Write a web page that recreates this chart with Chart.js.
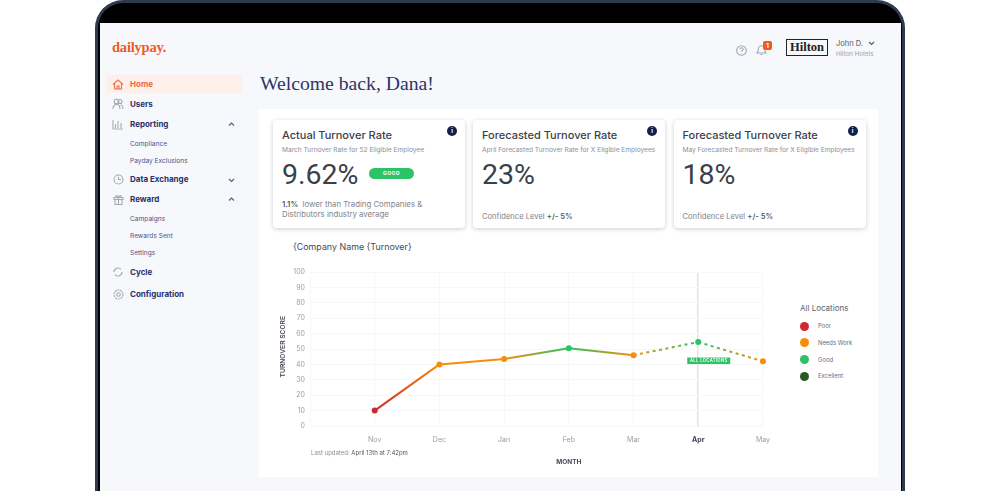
<!DOCTYPE html>
<html>
<head>
<meta charset="utf-8">
<title>DailyPay dashboard</title>
<script src="https://cdn.jsdelivr.net/npm/chart.js@4"></script>
<style>
    html, body { margin: 0; height: 100%; background: #fff; overflow: hidden; font-family: Inter, sans-serif; }
    #page { position: absolute; inset: 0; filter: blur(0.5px); }
    .box { position: absolute; }
    .t { position: absolute; transform: translateY(-50%); white-space: nowrap; line-height: 1.2; }
    .nav { color: #27306b; font-size: 8px; font-weight: 700; left: 130px; }
    .sub { color: #4b5488; font-size: 6.6px; left: 130px; }
    .card { position: absolute; top: 120px; width: 192px; height: 108px; background: #fff; border-radius: 4px; box-shadow: 0 1px 4px rgba(40,50,70,.25); }
    .card-title { color: #3a3f4b; font-size: 11px; font-weight: 500; left: 9px; top: 16px; }
    .card-sub { color: #8b8f99; font-size: 6.6px; left: 9px; top: 30.5px; }
    .card-value { color: #3a3f4b; font: 400 28.5px Roboto, sans-serif; left: 9px; top: 54px; }
    .card-foot { color: #7f838d; font-size: 7.6px; left: 9px; top: 97px; }
    .card-foot b { color: #555a66; font-weight: 600; }
    .info { position: absolute; top: 6px; right: 8px; width: 10px; height: 10px; border-radius: 50%; background: #10204f; color: #fff; font-size: 6px; line-height: 10px; text-align: center; font-weight: 700; }
    .icon { position: absolute; fill: none; stroke: #a3a9b5; stroke-width: 1.1; }
    .legend-dot { position: absolute; left: 800px; width: 9px; height: 9px; border-radius: 50%; }
    canvas { display: block; }
</style>
</head>
<body>
<div id="page">
    <!-- cadre du portable -->
    <div class="box" style="left:95px;top:0;width:810px;height:540px;background:#2e3a4e;border-radius:28px 28px 0 0"></div>
    <div class="box" style="left:98px;top:3px;width:804px;height:537px;background:#000;border-radius:25px 25px 0 0"></div>
    <div class="box" style="left:100px;top:23px;width:801px;height:500px;background:#f7f8fb"></div>

    <div class="t" style="left:112px;top:47px;font:700 14.5px 'Liberation Serif',serif;color:#f1591f;letter-spacing:-0.2px">dailypay.</div>

    <!-- en-tête -->
    <svg class="icon" style="left:736px;top:45px" width="11" height="11" viewBox="0 0 11 11"><circle cx="5.5" cy="5.5" r="4.8"/><path d="M4 4.3c0-2 3.2-2 3.2 0 0 1.2-1.6 1.2-1.6 2.4M5.6 8v.6"/></svg>
    <svg class="icon" style="left:756px;top:44px" width="11" height="12" viewBox="0 0 11 12"><path d="M1 9c1.3-1 1.3-2.5 1.3-4a3.2 3.2 0 0 1 6.4 0c0 1.5 0 3 1.3 4zM4.5 10.5h2"/></svg>
    <div class="box" style="left:763px;top:41px;width:9px;height:9px;background:#f1591f;border-radius:2px;color:#fff;font-size:6px;font-weight:700;line-height:9px;text-align:center">1</div>
    <div class="box" style="left:786px;top:39px;width:40px;height:15px;border:1px solid #222;color:#222;font:700 12.5px/15px 'Liberation Serif',serif;text-align:center">Hilton</div>
    <div class="t" style="left:836px;top:43px;font-size:7.5px;color:#555a66">John D.</div>
    <svg class="icon" style="left:868px;top:41px;stroke:#555a66" width="7" height="5" viewBox="0 0 7 5"><path d="M1 1l2.5 2.5L6 1"/></svg>
    <div class="t" style="left:836px;top:54px;font-size:6.2px;color:#9a9ea8">Hilton Hotels</div>

    <!-- menu latéral -->
    <div class="box" style="left:106px;top:75px;width:136px;height:18px;background:#fdf0ea;border-radius:3px"></div>
    <svg class="icon" style="left:112px;top:79px;stroke:#ea7048" width="12" height="11" viewBox="0 0 12 11"><path d="M1 5.5L6 1l5 4.5M2.5 4.5V10h7V4.5M5 10V7h2v3"/></svg>
    <div class="t nav" style="top:85px;color:#ef6a3c">Home</div>
    <svg class="icon" style="left:112px;top:98px" width="12" height="12" viewBox="0 0 12 12"><circle cx="4.5" cy="3.5" r="2.3"/><circle cx="8" cy="3.5" r="2"/><path d="M1 11c0-6 7-6 7 0M8.5 7c2 0 2.5 2 2.5 4"/></svg>
    <div class="t nav" style="top:105px">Users</div>
    <svg class="icon" style="left:112px;top:119px" width="12" height="11" viewBox="0 0 12 11"><path d="M1 10h10M1 1v9M3.5 9V5M6 9V2M9 9V4"/></svg>
    <div class="t nav" style="top:125px">Reporting</div>
    <svg class="icon" style="left:228px;top:122px;stroke:#555a88" width="7" height="5" viewBox="0 0 7 5"><path d="M1 3.5L3.5 1 6 3.5"/></svg>
    <div class="t sub" style="top:145px">Compliance</div>
    <div class="t sub" style="top:161.5px">Payday Exclusions</div>
    <svg class="icon" style="left:113px;top:174px" width="11" height="11" viewBox="0 0 11 11"><circle cx="5.5" cy="5.5" r="4.5"/><path d="M5.5 2.8v2.7h2.5"/></svg>
    <div class="t nav" style="top:180px">Data Exchange</div>
    <svg class="icon" style="left:228px;top:178px;stroke:#555a88" width="7" height="5" viewBox="0 0 7 5"><path d="M1 1l2.5 2.500L6 1"/></svg>
    <svg class="icon" style="left:113px;top:194px" width="11" height="11" viewBox="0 0 11 11"><path d="M1 3.5h9v2H1zM2 5.5v5h7v-5M5.5 3.5v7M5.5 3.5C4 1 2.5 1 3 3.5M5.5 3.5C7 1 8.5 1 8 3.5"/></svg>
    <div class="t nav" style="top:200px">Reward</div>
    <svg class="icon" style="left:228px;top:197px;stroke:#555a88" width="7" height="5" viewBox="0 0 7 5"><path d="M1 3.5L3.5 1 6 3.5"/></svg>
    <div class="t sub" style="top:220px">Campaigns</div>
    <div class="t sub" style="top:237px">Rewards Sent</div>
    <div class="t sub" style="top:254px">Settings</div>
    <svg class="icon" style="left:113px;top:267px" width="10" height="10" viewBox="0 0 10 10"><path d="M1 5a4 4 0 0 1 7-2.6M9 5a4 4 0 0 1-7 2.6"/></svg>
    <div class="t nav" style="top:273px">Cycle</div>
    <svg class="icon" style="left:113px;top:289px" width="11" height="11" viewBox="0 0 11 11"><circle cx="5.5" cy="5.5" r="1.8"/><circle cx="5.5" cy="5.5" r="4.5" stroke-dasharray="2 .8"/></svg>
    <div class="t nav" style="top:295px">Configuration</div>

    <div class="t" style="left:260px;top:83px;font:400 19.7px 'Liberation Serif',serif;color:#2b3568">Welcome back, Dana!</div>

    <!-- panneau blanc -->
    <div class="box" style="left:259px;top:109px;width:619px;height:368px;background:#fff"></div>

    <div class="card" style="left:273px">
        <div class="info">i</div>
        <div class="t card-title">Actual Turnover Rate</div>
        <div class="t card-sub">March Turnover Rate for 52 Eligible Employee</div>
        <div class="t card-value">9.62%</div>
        <div class="box" style="left:96px;top:48px;width:45px;height:11px;background:#2cc265;border-radius:6px;color:#fff;font-size:5px;font-weight:700;line-height:11px;text-align:center;letter-spacing:.5px">GOOD</div>
        <div class="t card-foot" style="top:84.5px;font-size:7.8px"><b>1.1%</b>&nbsp; lower than Trading Companies &amp;</div>
        <div class="t card-foot" style="top:94.5px;font-size:7.8px">Distributors industry average</div>
    </div>
    <div class="card" style="left:473px">
        <div class="info">i</div>
        <div class="t card-title">Forecasted Turnover Rate</div>
        <div class="t card-sub">April Forecasted Turnover Rate for X Eligible Employees</div>
        <div class="t card-value">23%</div>
        <div class="t card-foot">Confidence Level <b>+/- 5%</b></div>
    </div>
    <div class="card" style="left:673.5px">
        <div class="info">i</div>
        <div class="t card-title">Forecasted Turnover Rate</div>
        <div class="t card-sub">May Forecasted Turnover Rate for X Eligible Employees</div>
        <div class="t card-value">18%</div>
        <div class="t card-foot">Confidence Level <b>+/- 5%</b></div>
    </div>

    <div class="t" style="left:293px;top:247px;font-size:8.9px;color:#444955">{Company Name {Turnover}</div>

    <div class="box" style="left:270px;top:262px;width:510px;height:212px">
        <canvas id="turnoverChart" width="510" height="212"></canvas>
    </div>

    <div class="t" style="left:311px;top:453px;font-size:6px;color:#8b8f99">Last updated: <span style="color:#555a66">April 13th at 7:42pm</span></div>

    <div class="t" style="left:800px;top:308.5px;font-size:8px;color:#5a5f6b">All Locations</div>
    <div id="legend"></div>
</div>

<script>
// --- Données du graphique ---
const months = ['', 'Nov', 'Dec', 'Jan', 'Feb', 'Mar', 'Apr', 'May'];
const scores = [null, 10, 40, 43.5, 50.5, 46, 54.5, 42];
const scoreBands = [null, 'Poor', 'Needs Work', 'Needs Work', 'Good', 'Needs Work', 'Good', 'Needs Work'];
const yTicks = [0, 10, 20, 30, 40, 50, 60, 70, 80, 90, 100];
const bandNames = ['Poor', 'Needs Work', 'Good', 'Excellent'];
const bandColors = ['#d0282e', '#f78c0c', '#2cc265', '#2a5a1f'];
const legendRows = [326, 342.5, 359.5, 376];

const currentMonth = 'Apr';
const firstForecastIndex = months.indexOf('Mar');

function bandColor(index) {
    return bandColors[bandNames.indexOf(scoreBands[index])];
}

// Le dégradé suit chaque segment, d'un point à l'autre
function segmentGradient(ctx) {
    const gradient = ctx.chart.ctx.createLinearGradient(ctx.p0.x, 0, ctx.p1.x, 0);
    gradient.addColorStop(0, bandColor(ctx.p0DataIndex));
    gradient.addColorStop(1, bandColor(ctx.p1DataIndex));
    return gradient;
}

// Étiquette "ALL LOCATIONS" et titres des axes, placés avec les échelles
const annotations = {
    id: 'annotations',
    afterDatasetsDraw(chart) {
        const { ctx, scales: { x, y } } = chart;
        const aprX = x.getPixelForValue(months.indexOf(currentMonth));
        const tagY = y.getPixelForValue(42.5);
        ctx.save();
        ctx.fillStyle = '#2cc265';
        ctx.fillRect(aprX - 11, tagY - 3, 43, 6.5);
        ctx.fillStyle = '#fff';
        ctx.font = '600 4.2px Inter';
        ctx.letterSpacing = '0.35px';
        ctx.textAlign = 'center';
        ctx.textBaseline = 'middle';
        ctx.fillText('ALL LOCATIONS', aprX + 10.5, tagY + 0.3);
        ctx.letterSpacing = '0px';
        ctx.fillStyle = '#444955';
        ctx.font = '700 6.5px Inter';
        ctx.fillText('MONTH', x.getPixelForValue(months.indexOf('Feb')), 200);
        ctx.font = '600 6.7px Inter';
        ctx.translate(13, y.getPixelForValue(51.5));
        ctx.rotate(-Math.PI / 2);
        ctx.fillText('TURNOVER SCORE', 0, 0);
        ctx.restore();
    }
};

document.addEventListener('DOMContentLoaded', () => {
    const legend = document.getElementById('legend');
    bandNames.forEach((name, i) => {
        legend.innerHTML += `<div class="legend-dot" style="top:${legendRows[i] - 4.5}px;background:${bandColors[i]}"></div>`
            + `<div class="t" style="left:818px;top:${legendRows[i]}px;font-size:5.9px;color:#6a6e78">${name}</div>`;
    });

    new Chart(document.getElementById('turnoverChart'), {
        type: 'line',
        data: {
            labels: months,
            datasets: [{
                data: scores,
                borderWidth: 2,
                pointRadius: 3,
                pointHoverRadius: 3,
                pointBorderWidth: 0,
                pointBackgroundColor: scoreBands.map((band, i) => bandColor(i)),
                tension: 0,
                segment: {
                    borderColor: segmentGradient,
                    borderDash: ctx => ctx.p0DataIndex >= firstForecastIndex ? [3, 3.5] : undefined
                }
            }]
        },
        options: {
            responsive: false,
            animation: false,
            devicePixelRatio: 1,
            layout: { padding: { top: 10, right: 17, left: 0, bottom: 0 } },
            plugins: { legend: { display: false }, tooltip: { enabled: false } },
            scales: {
                x: {
                    afterFit: scale => { scale.height = 48; },
                    border: { display: false },
                    grid: {
                        drawTicks: false,
                        lineWidth: ctx => months[ctx.index] === currentMonth ? 1.5 : 1,
                        color: ctx => months[ctx.index] === currentMonth ? '#e0e2e6' : '#f6f7f8'
                    },
                    ticks: {
                        autoSkip: false,
                        maxRotation: 0,
                        padding: 10,
                        color: ctx => months[ctx.index] === currentMonth ? '#3a3f4b' : '#9a9da6',
                        font: ctx => ({ family: 'Inter', size: 7, weight: months[ctx.index] === currentMonth ? 700 : 400 })
                    }
                },
                y: {
                    min: 0,
                    max: 100,
                    afterFit: scale => { scale.width = 40; },
                    afterBuildTicks: scale => { scale.ticks = yTicks.map(value => ({ value })); },
                    border: { display: false },
                    grid: { drawTicks: false, color: '#f6f7f8' },
                    ticks: { padding: 5, color: '#9a9da6', font: { family: 'Inter', size: 7 } }
                }
            }
        },
        plugins: [annotations]
    });
});
</script>
</body>
</html>
